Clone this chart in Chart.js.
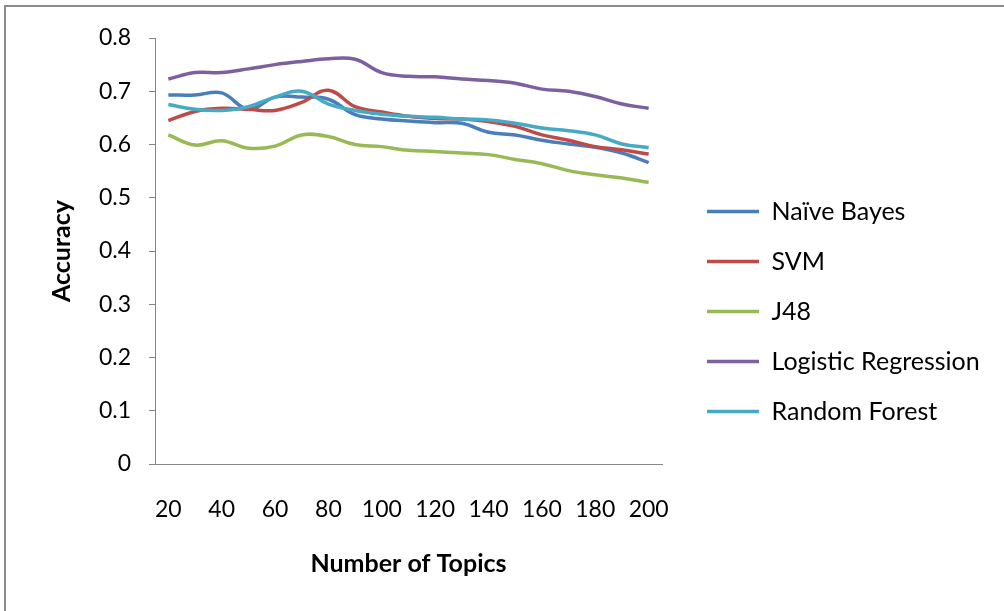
<!DOCTYPE html>
<html lang="en">
<head>
<meta charset="UTF-8">
<title>Accuracy vs Number of Topics</title>
<script src="https://cdn.jsdelivr.net/npm/chart.js"></script>
<style>
    body { margin: 0; background: #fff; }
    #wrap { position: relative; width: 1004px; height: 611px; overflow: hidden; }
    #frame {
        position: absolute; left: 4px; top: 5px; width: 1100px; height: 700px;
        border-left: 2px solid #8c8c8c; border-top: 2px solid #8c8c8c;
    }
    canvas { position: absolute; left: 0; top: 0; }
</style>
</head>
<body>
<div id="wrap">
    <div id="frame"></div>
    <canvas id="chart" width="1004" height="611"></canvas>
</div>
<script>
// data
const topics = [20, 30, 40, 50, 60, 70, 80, 90, 100, 110, 120, 130, 140, 150, 160, 170, 180, 190, 200];
const tickLabels = ['20', '40', '60', '80', '100', '120', '140', '160', '180', '200'];
const seriesNames = ['Naïve Bayes', 'SVM', 'J48', 'Logistic Regression', 'Random Forest'];

const naiveBayes = [0.693, 0.693, 0.697, 0.666, 0.689, 0.689, 0.685, 0.656, 0.648, 0.644, 0.641, 0.640, 0.623, 0.618, 0.608, 0.601, 0.595, 0.584, 0.566];
const svm        = [0.645, 0.662, 0.668, 0.666, 0.664, 0.679, 0.702, 0.671, 0.661, 0.653, 0.649, 0.648, 0.643, 0.634, 0.618, 0.608, 0.596, 0.590, 0.582];
const j48        = [0.618, 0.599, 0.607, 0.593, 0.597, 0.618, 0.615, 0.600, 0.596, 0.589, 0.587, 0.584, 0.581, 0.572, 0.564, 0.551, 0.543, 0.537, 0.529];
const logistic   = [0.723, 0.735, 0.735, 0.742, 0.750, 0.756, 0.761, 0.760, 0.735, 0.728, 0.727, 0.723, 0.720, 0.715, 0.704, 0.700, 0.690, 0.676, 0.668];
const randForest = [0.675, 0.666, 0.664, 0.671, 0.689, 0.700, 0.676, 0.664, 0.657, 0.653, 0.651, 0.648, 0.646, 0.640, 0.631, 0.626, 0.618, 0.601, 0.594];

const colors = ['#4a7ebb', '#be4b48', '#98b954', '#7d60a0', '#46aac5'];
const values = [naiveBayes, svm, j48, logistic, randForest];

const fontFamily = 'Lato, "DejaVu Sans", sans-serif';
const tickSize = 23;
const labelSize = 25;

// legend geometry: work out the right padding so the plot ends near x=662
const legendPad = 25, legendBox = 52, spacer = 20, plotRight = 662;
const mctx = document.createElement('canvas').getContext('2d');
mctx.font = labelSize + 'px ' + fontFamily;
const maxText = Math.max(...seriesNames.map(n => mctx.measureText(n).width));
const legendWidth = legendPad + legendBox + labelSize / 2 + maxText + 10;
const rightPad = Math.max(0, 1004 - (plotRight + spacer) - legendWidth);

const datasets = seriesNames.map((name, i) => ({
    label: name,
    data: values[i],
    borderColor: colors[i],
    backgroundColor: colors[i],
    borderWidth: 3.5,
    pointRadius: 0,
    pointHoverRadius: 0,
    tension: 0.4,
    fill: false,
    order: seriesNames.length - i   // later series on top, like Excel
}));

const axisColor = '#868686';

new Chart(document.getElementById('chart'), {
    type: 'line',
    data: { labels: topics.map(String), datasets: datasets },
    options: {
        responsive: false,
        animation: false,
        layout: { padding: { top: 38, left: 0, right: rightPad, bottom: 26 } },
        plugins: {
            legend: {
                position: 'right',
                align: 'center',
                maxWidth: 500,
                labels: {
                    boxWidth: legendBox,
                    boxHeight: 0,
                    padding: legendPad,
                    color: '#000',
                    font: { family: fontFamily, size: labelSize },
                    sort: (a, b) => a.datasetIndex - b.datasetIndex
                }
            },
            tooltip: { enabled: false }
        },
        scales: {
            x: {
                offset: true,
                grid: { display: true, drawOnChartArea: false, drawTicks: false, color: axisColor },
                border: { display: true, color: axisColor, width: 1 },
                ticks: {
                    autoSkip: false,
                    maxRotation: 0,
                    minRotation: 0,
                    padding: 32,
                    color: '#000',
                    font: { family: fontFamily, size: tickSize },
                    callback: (v, i) => tickLabels.includes(String(topics[i])) ? String(topics[i]) : ''
                },
                title: {
                    display: true,
                    text: 'Number of Topics',
                    color: '#000',
                    font: { family: fontFamily, size: labelSize, weight: 'bold' },
                    padding: { top: 0, bottom: 6 }
                },
                afterFit: s => { s.height = 121; }
            },
            y: {
                min: 0,
                max: 0.8,
                ticks: {
                    stepSize: 0.1,
                    padding: 18,
                    color: '#000',
                    font: { family: fontFamily, size: tickSize }
                },
                grid: { display: true, drawOnChartArea: false, drawTicks: true, tickLength: 6, color: axisColor },
                border: { display: true, color: axisColor, width: 1 },
                title: {
                    display: true,
                    text: 'Accuracy',
                    color: '#000',
                    font: { family: fontFamily, size: labelSize, weight: 'bold' },
                    padding: { top: 47, bottom: 0 }
                },
                afterFit: s => { s.width = 155; }
            },
            gap: {
                type: 'linear',
                position: 'right',
                display: true,
                grid: { display: false },
                border: { display: false },
                ticks: { display: false },
                afterFit: s => { s.width = spacer; }
            }
        }
    }
});
</script>
</body>
</html>
